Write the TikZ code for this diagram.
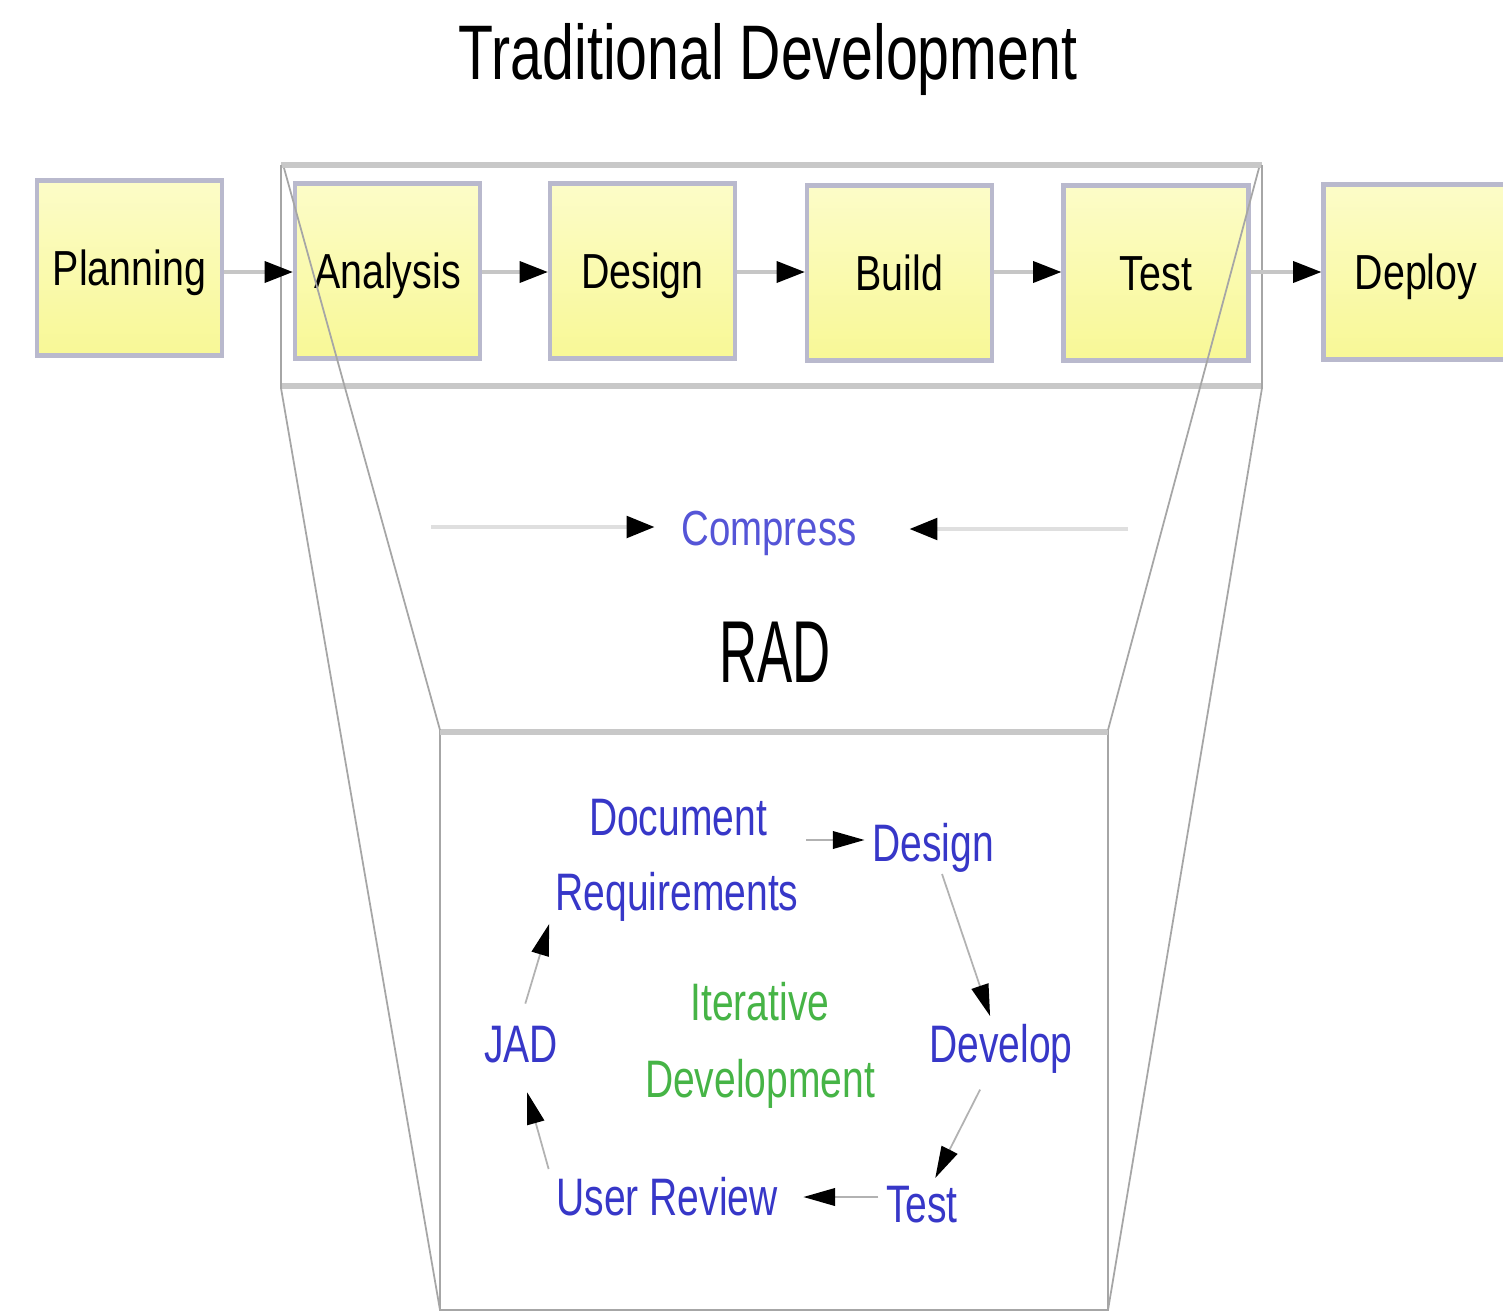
\documentclass[tikz,border=0pt]{standalone}
\usepackage{fontspec}
\setmainfont{Liberation Sans}
\usetikzlibrary{arrows.meta,calc}
\definecolor{boxfill}{RGB}{248,248,150}
\definecolor{boxtop}{RGB}{252,252,200}
\definecolor{boxedge}{RGB}{185,185,205}
\definecolor{framegray}{RGB}{200,200,200}
\definecolor{radblue}{RGB}{55,55,200}
\definecolor{compblue}{RGB}{85,85,215}
\definecolor{radgreen}{RGB}{70,180,70}
\newcommand{\nw}[2][0.8]{\scalebox{#1}[1]{#2}}
\tikzset{
  phase/.style={draw=boxedge, line width=1.2pt, top color=boxtop, bottom color=boxfill,
    minimum width=1.85cm, minimum height=1.75cm, inner sep=0pt,
    text height=10pt, text depth=0pt, font=\fontsize{14}{16}\selectfont},
  conn/.style={draw=gray!45, line width=0.9pt,
    -{Triangle[length=8pt,width=6pt,color=black]}},
  cconn/.style={draw=gray!60, line width=0.5pt,
    -{Triangle[length=9pt,width=5pt,color=black]}},
  cyc/.style={text=radblue, font=\fontsize{15}{18}\selectfont, inner sep=2pt, anchor=base},
  itx/.style={text=radgreen, font=\fontsize{15}{18}\selectfont, inner sep=2pt, anchor=base},
  frameline/.style={draw=framegray, line width=1.8pt},
  thinline/.style={draw=gray!70, line width=0.5pt}
}
\begin{document}
\begin{tikzpicture}[x=0.01cm,y=-0.01cm]
\useasboundingbox[fill=white] (0,0) rectangle (1503,1315);

% title
\node[anchor=base, inner sep=0pt, font=\fontsize{22}{26}\selectfont] (title) at (768,80) {\nw[0.74]{Traditional Development}};

% outer frame of the traditional phases being compressed
\draw[frameline] (281,165) -- (1262,165);
\draw[frameline] (281,386) -- (1262,386);
\draw[thinline] (281,165) -- (281,388) -- (440,1310);
\draw[thinline] (1262,165) -- (1262,388) -- (1108,1310);

% inner RAD box
\draw[thinline] (440,730) rectangle (1108,1310);
\draw[frameline] (440,732) -- (1108,732);

% phase boxes
\node[phase] (planning) at (129.5,268) {\nw{Planning}};
\node[phase] (analysis) at (387.5,271) {\nw{Analysis}};
\node[phase] (design)   at (642.5,271) {\nw{Design}};
\node[phase] (build)    at (899.5,273) {\nw{Build}};
\node[phase] (test)     at (1156,273) {\nw{Test}};
\node[phase] (deploy)   at (1416,272) {\nw{Deploy}};

\draw[conn] (planning.east |- 0,272) -- (analysis.west |- 0,272);
\draw[conn] (analysis.east |- 0,272) -- (design.west |- 0,272);
\draw[conn] (design.east |- 0,272) -- (build.west |- 0,272);
\draw[conn] (build.east |- 0,272) -- (test.west |- 0,272);
\draw[conn] (test.east |- 0,272) -- (deploy.west |- 0,272);

% funnel inner lines
\draw[thinline] (284,168) -- (440,730);
\draw[thinline] (1259,168) -- (1108,730);

% compress
\node[anchor=base, inner sep=2pt, text=compblue, font=\fontsize{14}{16}\selectfont] (compress) at (769,545) {\nw[0.78]{Compress}};
\coordinate (cl) at (431,527);
\coordinate (cr) at (1128,529);
\draw[conn, draw=gray!25, line width=1.4pt, shorten >=0.19cm] (cl) -- (cl -| compress.west);
\draw[conn, draw=gray!25, line width=1.4pt, shorten >=0.45cm] (cr) -- (cr -| compress.east);

% RAD label
\node[anchor=base, inner sep=0pt, font=\fontsize{25}{30}\selectfont] (rad) at (775,682) {\nw[0.6]{RAD}};

% iterative cycle
\node[cyc] (doc) at (678,835) {\nw[0.74]{Document}};
\node[cyc] (req) at (677,910) {\nw[0.74]{Requirements}};
\node[cyc] (cdesign) at (933,861) {\nw[0.74]{Design}};
\node[cyc] (develop) at (1001,1062) {\nw[0.74]{Develop}};
\node[cyc] (ctest) at (922,1222) {\nw[0.74]{Test}};
\node[cyc] (review) at (667,1215) {\nw[0.74]{User Review}};
\node[cyc] (jad) at (521,1062) {\nw[0.74]{JAD}};
\node[itx] (iter) at (760,1020) {\nw[0.74]{Iterative}};
\node[itx] (idev) at (760,1097) {\nw[0.74]{Development}};

\draw[cconn] (req.east |- 0,840) -- (cdesign.west |- 0,840);
\draw[cconn, shorten <=-0.06cm] (cdesign) -- (develop);
\draw[cconn, shorten <=0.1cm] (develop) -- (ctest);
\draw[cconn, shorten >=0.18cm] (ctest.west |- 0,1197) -- (review.east |- 0,1197);
\draw[cconn, shorten >=0.23cm] (review.north west) -- (jad.south);
\draw[cconn, shorten <=0.15cm, shorten >=-0.05cm] (jad.north) -- (req.south west);
\end{tikzpicture}
\end{document}
